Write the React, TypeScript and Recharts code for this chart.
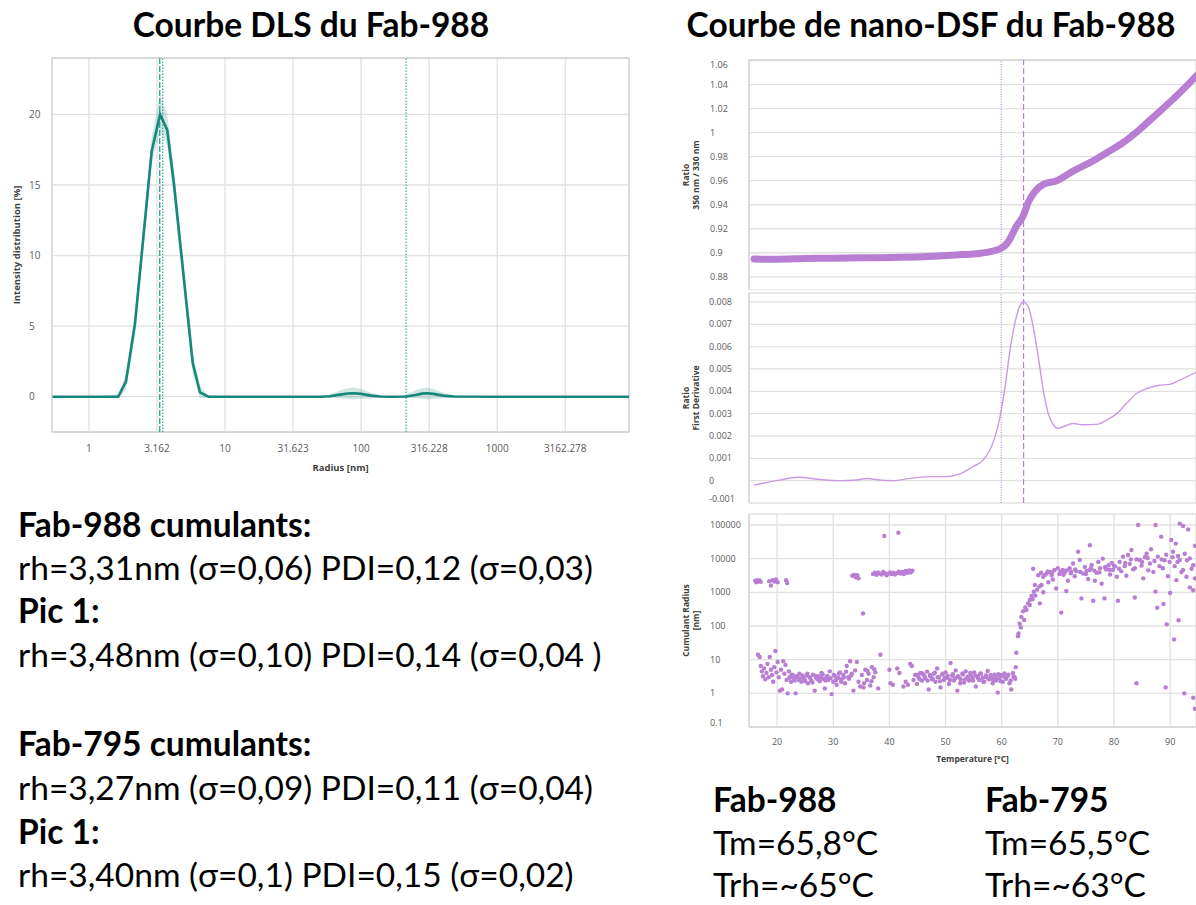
import React from 'react';
import {
  ComposedChart,
  LineChart,
  ScatterChart,
  Line,
  Area,
  Scatter,
  XAxis,
  YAxis,
  CartesianGrid,
  ReferenceLine,
  ReferenceArea,
} from 'recharts';

const TICK_FONT = '"Open Sans", sans-serif';
const TEXT_FONT = 'Lato, sans-serif';
const TEAL = '#17877a';
const TEAL_LIGHT = '#3aa697';
const PURPLE = '#b87ed3';
const PURPLE_LIGHT = '#c89be0';
const MARKER = '#b27ad0';
const GRID = '#e1e1e1';

// ---- DLS (intensity vs radius) ----
const dlsTicks = [1, 3.162, 10, 31.623, 100, 316.228, 1000, 3162.278];
const dlsTickLabels = ['1', '3.162', '10', '31.623', '100', '316.228', '1000', '3162.278'];
const dlsYTicks = [0, 5, 10, 15, 20];
const dlsRadius = [0.54, 1.0, 1.64, 1.87, 2.18, 2.89, 3.33, 3.76, 4.22, 5.79, 6.55, 7.54, 20, 50, 59, 70, 80, 88, 100, 118, 138, 170, 216, 250, 280, 304, 340, 400, 480, 1000, 3000, 9300];
const dlsIntensity = [0, 0, 0, 1.08, 5.2, 17.4, 20.0, 18.9, 15.0, 2.37, 0.3, 0, 0, 0, 0.03, 0.15, 0.23, 0.25, 0.2, 0.08, 0.02, 0, 0.02, 0.12, 0.22, 0.25, 0.2, 0.08, 0.02, 0, 0, 0];
const dlsBandLow = [0, 0, -0.1, 0.5, 4.3, 16.5, 18.8, 17.8, 14.0, 1.6, -0.1, -0.05, 0, 0, -0.05, -0.1, -0.15, -0.2, -0.15, -0.1, -0.05, 0, -0.05, -0.1, -0.15, -0.2, -0.15, -0.1, -0.05, 0, 0, 0];
const dlsBandHigh = [0, 0, 0.2, 1.6, 6.1, 18.4, 21.4, 20.0, 16.0, 3.2, 0.8, 0.1, 0, 0, 0.15, 0.45, 0.6, 0.65, 0.55, 0.3, 0.1, 0, 0.15, 0.45, 0.6, 0.65, 0.55, 0.3, 0.1, 0, 0, 0];
const dlsMarkers = [3.31, 3.48, 214];

// ---- nano-DSF ----
const tempTicks = [20, 30, 40, 50, 60, 70, 80, 90];
const ratioTicks = [0.88, 0.9, 0.92, 0.94, 0.96, 0.98, 1, 1.02, 1.04, 1.06];
const ratioTemp = [15.9, 20, 25, 30, 35, 42, 48, 53, 55, 58, 59.7, 60.8, 61.4, 62.6, 63.8, 64.7, 65.9, 67.4, 69.8, 72.7, 75.7, 78.6, 81.6, 84.6, 87.5, 90.5, 93.5, 94.8];
const ratioValue = [0.8948, 0.8946, 0.8952, 0.8955, 0.8958, 0.8962, 0.8972, 0.8985, 0.899, 0.901, 0.9033, 0.907, 0.911, 0.922, 0.9305, 0.9417, 0.951, 0.957, 0.96, 0.968, 0.975, 0.983, 0.9917, 1.0028, 1.015, 1.0278, 1.0417, 1.048];

const derivTicks = [-0.001, 0, 0.001, 0.002, 0.003, 0.004, 0.005, 0.006, 0.007, 0.008];
const derivTemp = [15.9, 19.9, 23.8, 27.7, 31.2, 34.2, 35.9, 38.2, 40.7, 43.7, 47.2, 50.2, 52.5, 54.9, 56.7, 57.9, 58.8, 59.7, 60.6, 61.4, 62.3, 63.2, 63.8, 64.7, 65.6, 66.5, 67.4, 68.3, 69.2, 70.0, 70.9, 72.7, 74.5, 76.9, 78.7, 80.5, 82.2, 84.0, 85.8, 88.1, 89.9, 91.7, 94.6];
const derivValue = [-0.0002, 0, 0.00015, 0.00005, 0, 0.00003, 0.0001, 0.00003, 0, 0.0001, 0.00018, 0.00018, 0.0003, 0.00063, 0.00092, 0.00137, 0.00196, 0.00286, 0.0042, 0.0057, 0.007, 0.0078, 0.008, 0.0078, 0.0069, 0.00556, 0.00405, 0.003, 0.0025, 0.00234, 0.00241, 0.00256, 0.0025, 0.00252, 0.00271, 0.003, 0.00345, 0.0039, 0.00412, 0.00427, 0.00431, 0.0045, 0.00485];
const dsfMarkers = [59.9, 63.9];

const radiusTicks = [0.1, 1, 10, 100, 1000, 10000, 100000];
// monomer population (below the transition)
const lowTemp = [16.6, 16.9, 17.1, 17.3, 17.5, 17.7, 17.9, 18.1, 18.3, 18.5, 18.7, 18.9, 19.1, 19.3, 19.5, 19.7, 19.9, 20.1, 20.3, 20.5, 20.7, 20.9, 21.1, 21.3, 21.5, 21.7, 21.9, 22.1, 22.3, 22.5, 22.8, 23.0, 23.3, 23.5, 23.8, 24.0, 24.3, 24.6, 24.9, 25.2, 25.5, 25.8, 26.1, 26.4, 26.7, 27.0, 27.3, 27.6, 27.9, 28.2, 28.5, 28.8, 29.1, 29.4, 29.7, 30.0, 30.3, 30.6, 30.9, 31.2, 31.5, 31.8, 32.1, 32.4, 32.7, 33.0, 33.3, 33.6, 33.9, 34.2, 34.5, 34.8, 35.1, 35.4, 35.7, 36.0, 36.3, 36.6, 36.9, 37.2, 37.5, 38.0, 38.4, 40.0, 40.2, 40.6, 41.4, 41.8, 42.5, 42.9, 43.3, 43.7, 44.0, 44.3, 44.6, 44.9, 45.2, 45.5, 45.8, 46.1, 46.4, 46.7, 47.0, 47.3, 47.6, 47.9, 48.2, 48.5, 48.8, 49.1, 49.4, 49.7, 50.0, 50.3, 50.6, 50.9, 51.2, 51.5, 51.8, 52.1, 52.4, 52.7, 53.0, 53.3, 53.6, 53.9, 54.2, 54.5, 54.8, 55.1, 55.4, 55.7, 56.0, 56.3, 56.6, 56.9, 57.2, 57.5, 57.8, 58.1, 58.4, 58.7, 59.0, 59.3, 59.6, 59.9, 60.2, 60.5, 60.8, 61.1, 61.4, 61.7, 62.0, 62.3, 62.5, 62.6];
const lowRadius = [14, 12, 6.5, 4.5, 3.2, 5.5, 2.6, 4.0, 7.5, 3.0, 12, 5.0, 3.5, 2.2, 6.0, 18, 4.2, 8.5, 3.0, 1.2, 5.0, 1.3, 9.0, 3.8, 7.0, 2.5, 1.0, 4.5, 3.0, 2.2, 3.5, 2.8, 1.0, 3.2, 2.5, 3.8, 2.2, 3.0, 2.6, 3.4, 2.0, 3.0, 2.4, 3.6, 1.2, 2.8, 3.2, 2.3, 4.0, 2.7, 1.4, 3.1, 2.5, 4.5, 0.95, 2.2, 3.3, 1.8, 2.9, 4.2, 2.6, 3.5, 2.0, 6.5, 3.0, 9.0, 3.8, 1.2, 4.8, 8.5, 2.2, 1.6, 3.5, 1.5, 5.0, 2.5, 3.8, 1.7, 6.0, 3.0, 4.2, 1.4, 14, 5.0, 2.0, 1.8, 5.5, 4.0, 1.6, 2.2, 1.8, 7.5, 6.5, 2.5, 3.5, 1.9, 3.0, 4.0, 2.4, 3.5, 2.8, 4.4, 1.3, 3.2, 2.6, 3.8, 2.2, 5.5, 3.0, 1.5, 3.6, 2.5, 4.2, 2.9, 1.9, 8.0, 3.3, 2.4, 4.8, 1.2, 3.0, 2.6, 3.9, 2.1, 4.5, 3.1, 2.4, 3.5, 2.8, 4.2, 1.6, 3.2, 2.5, 3.8, 2.9, 2.2, 3.4, 4.6, 2.6, 3.1, 2.0, 3.6, 2.4, 1.05, 2.8, 3.5, 2.2, 3.9, 2.7, 3.3, 2.0, 1.3, 4.0, 3.0, 6.0, 16];
const lowTemp2 = [22.2, 22.6, 23.1, 23.6, 24.1, 24.5, 25.0, 25.4, 25.9, 26.3, 26.8, 27.2, 27.7, 28.1, 28.6, 29.0, 29.5, 30.1, 30.5, 31.0, 31.4, 31.9, 32.3, 32.8, 33.2, 35.5, 36.1, 36.8, 37.3, 45.0, 45.4, 45.9, 46.3, 46.8, 47.2, 47.7, 48.1, 48.6, 49.0, 49.5, 49.9, 50.4, 50.8, 51.3, 51.7, 52.2, 52.6, 53.1, 53.5, 54.0, 54.4, 54.9, 55.3, 55.8, 56.2, 56.7, 57.1, 57.6, 58.0, 58.5, 58.9, 59.4, 59.8, 60.3, 60.7, 61.2, 61.6, 62.1, 62.4];
const lowRadius2 = [2.9, 3.6, 2.4, 3.1, 2.7, 3.4, 2.3, 3.8, 2.9, 2.1, 3.3, 2.6, 3.0, 3.7, 2.4, 3.2, 2.8, 3.5, 2.5, 3.9, 2.2, 3.0, 4.4, 2.7, 3.4, 2.0, 4.6, 2.3, 5.2, 3.6, 2.6, 3.9, 3.1, 2.4, 3.5, 2.7, 4.1, 3.0, 2.3, 3.8, 2.9, 3.3, 2.5, 3.7, 2.8, 3.2, 2.0, 3.6, 2.6, 3.0, 4.0, 2.4, 3.4, 2.8, 3.9, 2.2, 3.1, 2.7, 3.5, 2.5, 3.0, 3.7, 2.3, 3.2, 2.9, 3.6, 2.4, 3.1, 2.7];
// aggregate population below the transition
const highTemp = [16.1, 16.3, 16.5, 16.7, 16.9, 17.1, 18.6, 18.9, 19.2, 19.5, 19.8, 20.1, 21.6, 21.8, 33.4, 33.7, 34.0, 34.3, 34.5, 35.3, 37.1, 37.4, 37.7, 38.0, 38.3, 38.6, 38.9, 39.1, 39.2, 39.5, 39.8, 40.1, 40.4, 40.7, 41.0, 41.3, 41.6, 41.7, 42.0, 42.3, 42.6, 42.9, 43.2, 43.5, 43.8, 44.1];
const highRadius = [2200, 2000, 2300, 2100, 2250, 2050, 2150, 1600, 2300, 2100, 2400, 2000, 2300, 1900, 3100, 3300, 2800, 3200, 2600, 235, 3500, 3800, 3300, 3900, 3600, 3400, 4000, 47000, 3700, 3200, 3600, 3900, 3500, 3800, 3400, 3700, 59000, 4100, 3600, 4000, 3500, 4300, 3800, 4500, 3900, 4400];
// after unfolding
const hotTemp = [62.9, 63.0, 63.2, 63.4, 63.5, 63.8, 64.0, 64.2, 64.4, 64.7, 65.0, 65.0, 65.3, 65.5, 65.6, 65.7, 65.9, 66.0, 66.3, 66.5, 66.7, 66.8, 67.1, 67.4, 67.4, 67.7, 68.0, 68.3, 68.6, 68.9, 69.1, 69.4, 69.7, 70.0, 70.3, 70.6, 70.9, 71.2, 71.5, 71.8, 72.1, 72.4, 72.7, 73.0, 73.3, 73.6, 73.9, 74.2, 74.5, 74.8, 75.1, 75.4, 75.7, 75.7, 76.0, 76.3, 76.6, 76.9, 77.2, 77.5, 77.8, 78.0, 78.3, 78.6, 79.0, 79.3, 79.6, 79.8, 80.2, 80.5, 80.7, 81.0, 81.3, 81.6, 81.9, 82.2, 82.5, 82.8, 83.1, 83.4, 83.7, 83.7, 84.0, 84.3, 84.6, 84.9, 85.2, 85.5, 85.8, 86.1, 86.4, 86.6, 87.0, 87.4, 87.4, 87.7, 87.8, 88.1, 88.4, 88.7, 88.8, 89.0, 89.3, 89.4, 89.6, 89.9, 90.0, 90.2, 90.5, 90.8, 91.0, 91.1, 91.5, 91.4, 91.7, 91.7, 92.0, 92.3, 92.3, 92.6, 92.9, 93.2, 93.5, 93.5, 93.8, 94.1, 94.1, 94.4, 94.4, 84.0, 89.2, 90.7, 92.5, 94.1, 94.4];
const hotRadius = [50, 60, 117, 90, 186, 275, 150, 355, 300, 470, 590, 420, 780, 620, 5000, 1040, 1650, 800, 1200, 3200, 1500, 470, 1650, 2900, 1000, 3300, 3600, 2000, 4000, 3200, 2400, 4600, 1300, 5200, 3500, 250, 4600, 3800, 1100, 2200, 5200, 4000, 7200, 3000, 4200, 16000, 9100, 660, 3600, 5700, 4300, 2500, 25000, 4600, 6500, 560, 2200, 3800, 8000, 5200, 1800, 10000, 660, 4800, 6400, 3400, 7500, 4600, 5800, 2900, 560, 8000, 4200, 11500, 6000, 3100, 12900, 7000, 18000, 4800, 5200, 700, 9500, 100000, 9100, 6200, 2600, 11000, 14000, 4500, 7200, 19000, 4000, 100000, 1050, 350, 11500, 6000, 45000, 5200, 450, 9000, 13000, 112, 3000, 8000, 950, 36000, 16000, 6000, 28000, 2300, 148, 12000, 110000, 9100, 4000, 93000, 4600, 14000, 2900, 74000, 10200, 1400, 5000, 6400, 1150, 24000, 2600, 2.0, 1.5, 40, 1.0, 0.74, 0.35];
const hotTemp2 = [67.0, 68.2, 69.0, 70.5, 71.0, 71.6, 72.3, 73.1, 74.0, 75.0, 75.9, 76.5, 77.4, 78.4, 79.2, 80.0, 80.9, 82.0, 83.0, 85.0, 86.0, 87.2, 88.5, 90.4, 91.3, 93.0];
const hotRadius2 = [3800, 4200, 3900, 4100, 3300, 4500, 3700, 4800, 4000, 3500, 5200, 4400, 3900, 5600, 4700, 6200, 5000, 7500, 9500, 8000, 10500, 8500, 9500, 11000, 8000, 9000];

const dlsData = dlsRadius.map((r, i) => ({ r, v: dlsIntensity[i], band: [dlsBandLow[i], dlsBandHigh[i]] }));
const ratioData = ratioTemp.map((t, i) => ({ t, v: ratioValue[i] }));
const derivData = derivTemp.map((t, i) => ({ t, v: derivValue[i] }));
const pairUp = (ts: number[], rs: number[]) => ts.map((t, i) => ({ t, r: rs[i] })).filter((p) => p.r !== undefined);
const radiusData = [
  ...pairUp(lowTemp, lowRadius),
  ...pairUp(lowTemp2, lowRadius2),
  ...pairUp(highTemp, highRadius),
  ...pairUp(hotTemp, hotRadius),
  ...pairUp(hotTemp2, hotRadius2),
];

// y tick labels are left aligned in the original software
function makeLeftTick(x0: number, fontSize: number, top: number, bottom: number) {
  return (props: any) => {
    let y = props.y;
    if (y < top + 4) y = top + 5;
    if (y > bottom - 3) y = bottom - 4;
    return (
      <text x={x0} y={y} dy={fontSize * 0.35} textAnchor="start" fontSize={fontSize} fill="#5a5a5a" fontFamily={TICK_FONT}>
        {String(props.payload.value)}
      </text>
    );
  };
}

function VTitle({ viewBox, lines, dx, size }: any) {
  const x = viewBox.x + dx;
  const y = viewBox.y + viewBox.height / 2;
  return (
    <text transform={`translate(${x},${y}) rotate(-90)`} textAnchor="middle" fontSize={size} fontWeight={700} fill="#404040" fontFamily={TICK_FONT}>
      {lines.map((l: string, i: number) => (
        <tspan key={i} x={0} dy={i === 0 ? 0 : size + 1.5}>{l}</tspan>
      ))}
    </text>
  );
}

function HTitle({ viewBox, text, dy, size }: any) {
  return (
    <text x={viewBox.x + viewBox.width / 2} y={viewBox.y + dy} textAnchor="middle" fontSize={size} fontWeight={700} fill="#404040" fontFamily={TICK_FONT}>
      {text}
    </text>
  );
}

const dot = (p: any) => <circle cx={p.cx} cy={p.cy} r={2.2} fill={PURPLE} />;

function DlsChart() {
  return (
    <ComposedChart width={640} height={430} data={dlsData} margin={{ top: 8, right: 11, bottom: 0, left: 0 }}>
      <CartesianGrid stroke={GRID} strokeWidth={1.3} />
      <XAxis
        dataKey="r"
        type="number"
        scale="log"
        domain={[0.535, 9300]}
        ticks={dlsTicks}
        interval={0}
        allowDataOverflow
        height={48}
        axisLine={false}
        tickLine={false}
        tickSize={0}
        tickMargin={13}
        tick={{ fontSize: 10, fill: '#5a5a5a', fontFamily: TICK_FONT }}
        tickFormatter={(v: number) => dlsTickLabels[dlsTicks.indexOf(v)] ?? String(v)}
        label={<HTitle text="Radius [nm]" dy={38.5} size={9.5} />}
      />
      <YAxis
        type="number"
        domain={[-2.5, 24]}
        ticks={dlsYTicks}
        interval={0}
        allowDataOverflow
        width={52}
        axisLine={false}
        tickLine={false}
        tick={makeLeftTick(29, 10, 0, 10000)}
        label={<VTitle lines={['Intensity distribution [%]']} dx={20} size={9.5} />}
      />
      <ReferenceArea x1={0.535} x2={9300} y1={-2.5} y2={24} fill="none" stroke="#d4d4d4" strokeWidth={1.3} ifOverflow="visible" />
      <Area dataKey="band" type="linear" stroke="none" fill={TEAL} fillOpacity={0.2} isAnimationActive={false} />
      <ReferenceLine x={dlsMarkers[0]} stroke={TEAL_LIGHT} strokeWidth={1.4} strokeDasharray="6 2" />
      <ReferenceLine x={dlsMarkers[1]} stroke={TEAL_LIGHT} strokeWidth={1.2} strokeDasharray="1.5 1.5" />
      <ReferenceLine x={dlsMarkers[2]} stroke={TEAL_LIGHT} strokeWidth={1.2} strokeDasharray="1.5 1.5" />
      <Line dataKey="v" type="linear" stroke={TEAL} strokeWidth={2.6} dot={false} isAnimationActive={false} />
    </ComposedChart>
  );
}

const tempAxisHidden = (
  <XAxis dataKey="t" type="number" domain={[15, 94.6]} ticks={tempTicks} interval={0} allowDataOverflow height={0} tick={false} axisLine={false} tickLine={false} />
);

function RatioChart() {
  return (
    <LineChart width={516} height={238} data={ratioData} margin={{ top: 8, right: 0, bottom: 0, left: 0 }}>
      <CartesianGrid stroke={GRID} strokeWidth={1.3} />
      {tempAxisHidden}
      <YAxis
        type="number"
        domain={[0.869, 1.0605]}
        ticks={ratioTicks}
        interval={0}
        allowDataOverflow
        width={69}
        axisLine={{ stroke: '#d4d4d4', strokeWidth: 1.3 }}
        tickLine={false}
        tick={makeLeftTick(30, 9, 8, 238)}
        label={<VTitle lines={['Ratio', '350 nm / 330 nm']} dx={9} size={8.5} />}
      />
      <ReferenceLine y={1.0605} stroke="#d4d4d4" strokeWidth={1.3} />
      <ReferenceLine x={dsfMarkers[0]} stroke={MARKER} strokeWidth={1} strokeDasharray="1 1.5" />
      <ReferenceLine x={dsfMarkers[1]} stroke={MARKER} strokeWidth={1.1} strokeDasharray="6 3" />
      <Line dataKey="v" type="monotone" stroke={PURPLE} strokeWidth={7} strokeLinecap="round" dot={false} isAnimationActive={false} />
    </LineChart>
  );
}

function DerivChart() {
  return (
    <LineChart width={516} height={224} data={derivData} margin={{ top: 8, right: 0, bottom: 6, left: 0 }}>
      <CartesianGrid stroke={GRID} strokeWidth={1.3} />
      {tempAxisHidden}
      <YAxis
        type="number"
        domain={[-0.001, 0.0084]}
        ticks={derivTicks}
        interval={0}
        allowDataOverflow
        width={69}
        axisLine={{ stroke: '#d4d4d4', strokeWidth: 1.3 }}
        tickLine={false}
        tick={makeLeftTick(29, 9, 0, 218)}
        label={<VTitle lines={['Ratio', 'First Derivative']} dx={9} size={8.5} />}
      />
      <ReferenceLine x={dsfMarkers[0]} stroke={MARKER} strokeWidth={1} strokeDasharray="1 1.5" />
      <ReferenceLine x={dsfMarkers[1]} stroke={MARKER} strokeWidth={1.1} strokeDasharray="6 3" />
      <Line dataKey="v" type="monotone" stroke={PURPLE_LIGHT} strokeWidth={1.4} dot={false} isAnimationActive={false} />
    </LineChart>
  );
}

function RadiusChart() {
  return (
    <ScatterChart width={516} height={261} margin={{ top: 8, right: 0, bottom: 0, left: 0 }}>
      <CartesianGrid stroke={GRID} strokeWidth={1.3} />
      <XAxis
        dataKey="t"
        type="number"
        domain={[15, 94.6]}
        ticks={tempTicks}
        interval={0}
        allowDataOverflow
        height={40}
        axisLine={{ stroke: '#d4d4d4', strokeWidth: 1.3 }}
        tickLine={false}
        tickSize={0}
        tickMargin={12}
        tick={{ fontSize: 9, fill: '#5a5a5a', fontFamily: TICK_FONT }}
        label={<HTitle text="Temperature [°C]" dy={34.5} size={8.5} />}
      />
      <YAxis
        dataKey="r"
        type="number"
        scale="log"
        domain={[0.1, 212000]}
        ticks={radiusTicks}
        interval={0}
        allowDataOverflow
        width={69}
        axisLine={{ stroke: '#d4d4d4', strokeWidth: 1.3 }}
        tickLine={false}
        tick={makeLeftTick(30, 9, 0, 221)}
        label={<VTitle lines={['Cumulant Radius', '[nm]']} dx={9} size={8.5} />}
      />
      <Scatter data={radiusData} fill={PURPLE} shape={dot} isAnimationActive={false} />
    </ScatterChart>
  );
}

const leftNotes = [
  { text: 'Fab-988 cumulants:', bold: true },
  { text: 'rh=3,31nm (σ=0,06) PDI=0,12 (σ=0,03)', bold: false },
  { text: 'Pic 1:', bold: true },
  { text: 'rh=3,48nm (σ=0,10) PDI=0,14 (σ=0,04 )', bold: false },
  { text: 'Fab-795 cumulants:', bold: true },
  { text: 'rh=3,27nm (σ=0,09) PDI=0,11 (σ=0,04)', bold: false },
  { text: 'Pic 1:', bold: true },
  { text: 'rh=3,40nm (σ=0,1) PDI=0,15 (σ=0,02)', bold: false },
];
const leftBaselines = [537, 580, 623, 667, 756, 800, 844, 887];
const tmNotes = [
  { x: 713, lines: ['Fab-988', 'Tm=65,8°C', 'Trh=~65°C'] },
  { x: 985, lines: ['Fab-795', 'Tm=65,5°C', 'Trh=~63°C'] },
];
const tmBaselines = [812, 855, 897];

export default function App() {
  const fs = 33.5;
  return (
    <div style={{ position: 'absolute', left: 0, top: 0, width: 1196, height: 905, overflow: 'hidden', background: '#fff' }}>
      <svg width={1196} height={905} style={{ position: 'absolute', left: 0, top: 0 }}>
        <g fontFamily={TEXT_FONT} fill="#000">
          <text x={311} y={37} textAnchor="middle" fontSize={fs} fontWeight={700}>Courbe DLS du Fab-988</text>
          <text x={931} y={37} textAnchor="middle" fontSize={fs} fontWeight={700}>Courbe de nano-DSF du Fab-988</text>
          {leftNotes.map((n, i) => (
            <text key={i} x={18} y={leftBaselines[i]} fontSize={fs} fontWeight={n.bold ? 700 : 400}>{n.text}</text>
          ))}
          {tmNotes.map((c) =>
            c.lines.map((l, i) => (
              <text key={c.x + l} x={c.x} y={tmBaselines[i]} fontSize={fs} fontWeight={i === 0 ? 700 : 400}>{l}</text>
            ))
          )}
        </g>
      </svg>
      <div style={{ position: 'absolute', left: 0, top: 50 }}>
        <DlsChart />
      </div>
      <div style={{ position: 'absolute', left: 680, top: 52 }}>
        <RatioChart />
      </div>
      <div style={{ position: 'absolute', left: 680, top: 285 }}>
        <DerivChart />
      </div>
      <div style={{ position: 'absolute', left: 680, top: 506 }}>
        <RadiusChart />
      </div>
    </div>
  );
}
